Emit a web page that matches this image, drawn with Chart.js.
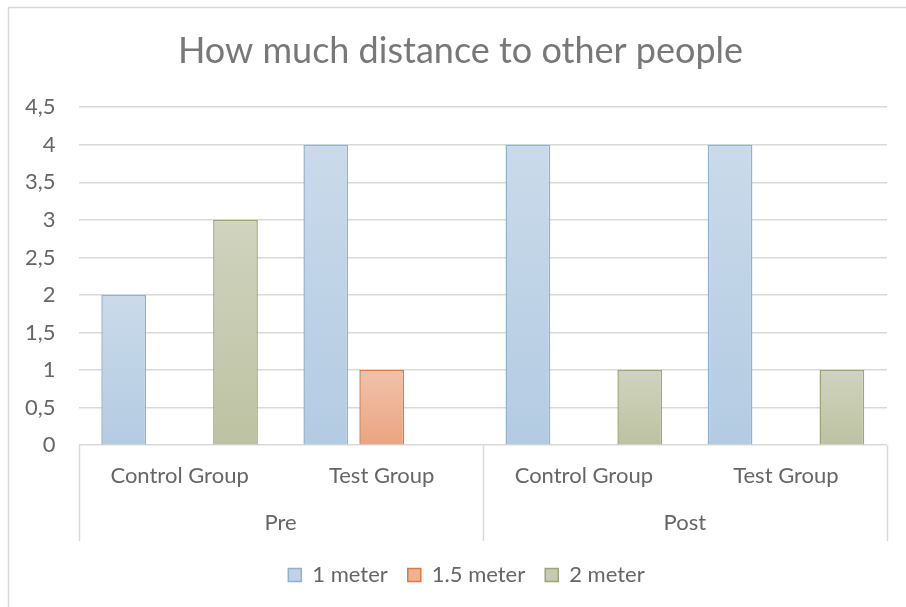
<!DOCTYPE html>
<html>
<head>
<meta charset="utf-8">
<script src="https://cdn.jsdelivr.net/npm/chart.js@4/dist/chart.umd.min.js"></script>
<style>
  html, body { margin: 0; padding: 0; background: #fff; }
  #wrap { width: 906px; height: 607px; }
</style>
</head>
<body>
<div id="wrap"><canvas id="distance-chart" width="906" height="607"></canvas></div>
<script>
// data
const categories = ['Control Group', 'Test Group', 'Control Group', 'Test Group']
const phases = ['Pre', 'Post']
const oneMeter = [2, 4, 4, 4]
const oneHalfMeter = [0, 1, 0, 0]
const twoMeter = [3, 0, 1, 1]

const textColor = '#666666'
const titleColor = '#787878'
const lineColor = '#d9d9d9'
const fontFamily = "'Lato', 'Open Sans', sans-serif"
const legendFills = ['#bfd2e6', '#eeb295', '#c7cbb0']

// per-bar vertical gradient like the spreadsheet fill
function barFill(top, bottom) {
  return (ctx) => {
    const chart = ctx.chart
    if (!chart.chartArea || ctx.parsed === undefined) return bottom
    const y = chart.scales.y
    const y0 = y.getPixelForValue(0)
    const y1 = y.getPixelForValue(ctx.parsed.y)
    if (y0 === y1) return bottom
    const g = chart.ctx.createLinearGradient(0, y1, 0, y0)
    g.addColorStop(0, top)
    g.addColorStop(1, bottom)
    return g
  }
}

function zeroless(width) {
  return (ctx) => (ctx.raw === 0 ? 0 : width)
}

// the original frame is a bit wider than the window, so title and legend sit right of centre
const shiftPlugin = {
  id: 'shift',
  afterLayout(chart) {
    chart.titleBlock.left += 16
    chart.titleBlock.right += 16
    chart.legend.left += 22
    chart.legend.right += 22
    chart.legend.top += 6
    chart.legend.bottom += 6
  },
}

// separator lines under the plot and the outer frame
const framePlugin = {
  id: 'frame',
  beforeDraw(chart) {
    const c = chart.ctx
    c.save()
    c.strokeStyle = lineColor
    c.lineWidth = 1.5
    c.beginPath()
    c.moveTo(8.5, 607)
    c.lineTo(8.5, 7.5)
    c.lineTo(906, 7.5)
    c.stroke()
    c.restore()
  },
  afterDraw(chart) {
    const c = chart.ctx
    const area = chart.chartArea
    const bottom = chart.scales.x2.bottom + 3
    const xs = [area.left, (area.left + area.right) / 2, area.right]
    c.save()
    c.strokeStyle = lineColor
    c.lineWidth = 1.5
    xs.forEach((x) => {
      c.beginPath()
      c.moveTo(Math.round(x) + 0.5, area.bottom)
      c.lineTo(Math.round(x) + 0.5, bottom)
      c.stroke()
    })
    c.restore()
  },
}

const distanceChart = new Chart(document.querySelector('#distance-chart'), {
  type: 'bar',
  data: {
    labels: categories,
    datasets: [
      {
        label: '1 meter',
        data: oneMeter,
        backgroundColor: barFill('#cadaea', '#b3cbe2'),
        borderColor: '#8eb1d2',
        borderWidth: zeroless(1.5),
      },
      {
        label: '1.5 meter',
        data: oneHalfMeter,
        backgroundColor: barFill('#f0c2ab', '#eba481'),
        borderColor: '#e4773f',
        borderWidth: zeroless(1.5),
      },
      {
        label: '2 meter',
        data: twoMeter,
        backgroundColor: barFill('#d0d3be', '#bdc2a2'),
        borderColor: '#9da675',
        borderWidth: zeroless(1.5),
      },
    ],
  },
  options: {
    responsive: false,
    animation: false,
    layout: {
      padding: { left: 2, right: 19, top: 0, bottom: 17 },
    },
    datasets: {
      bar: {
        categoryPercentage: 0.83,
        barPercentage: 0.8,
      },
    },
    scales: {
      x: {
        type: 'category',
        position: 'bottom',
        grid: { display: false, drawTicks: false },
        border: { display: false },
        ticks: {
          color: textColor,
          padding: 18,
          font: { family: fontFamily, size: 22 },
        },
      },
      x2: {
        type: 'category',
        position: 'bottom',
        labels: phases,
        offset: true,
        grid: { display: false, drawTicks: false },
        border: { display: false },
        ticks: {
          color: textColor,
          padding: 2,
          font: { family: fontFamily, size: 22 },
        },
      },
      y: {
        min: 0,
        max: 4.5,
        grid: { color: lineColor, lineWidth: 1.5, drawTicks: false },
        border: { display: false },
        ticks: {
          stepSize: 0.5,
          color: textColor,
          padding: 23,
          font: { family: fontFamily, size: 22 },
          callback: (value) => String(value).replace('.', ','),
        },
      },
    },
    plugins: {
      title: {
        display: true,
        text: 'How much distance to other people',
        color: titleColor,
        padding: { top: 30, bottom: 34 },
        font: { family: fontFamily, size: 36, weight: 'normal' },
      },
      legend: {
        position: 'bottom',
        labels: {
          color: textColor,
          boxWidth: 13,
          boxHeight: 13,
          padding: 20,
          font: { family: fontFamily, size: 22 },
          generateLabels: (chart) =>
            chart.data.datasets.map((ds, i) => ({
              text: ds.label,
              fillStyle: legendFills[i],
              strokeStyle: ds.borderColor,
              lineWidth: 1.5,
              fontColor: textColor,
              hidden: false,
              datasetIndex: i,
            })),
        },
      },
      tooltip: { enabled: false },
    },
  },
  plugins: [shiftPlugin, framePlugin],
})
</script>
</body>
</html>
